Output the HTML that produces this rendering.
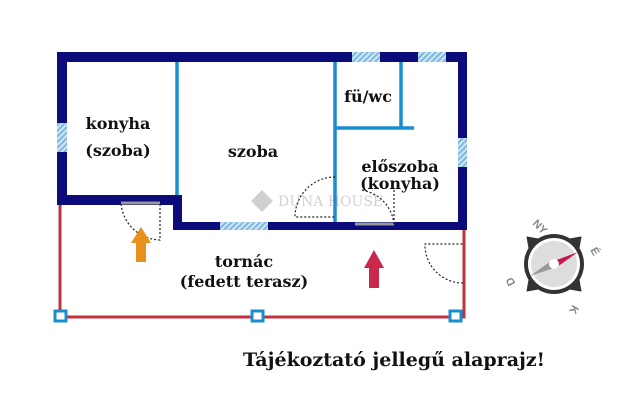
<!DOCTYPE html>
<html><head><meta charset="utf-8"><style>
body{margin:0;background:#fff;width:640px;height:410px;overflow:hidden}
text{font-family:"DejaVu Serif","Liberation Serif",serif;font-weight:bold;fill:#111}
</style></head><body>
<svg width="640" height="410" viewBox="0 0 640 410" xmlns="http://www.w3.org/2000/svg">
<defs>
<pattern id="h" width="4" height="4" patternUnits="userSpaceOnUse" patternTransform="rotate(45)">
<rect width="4" height="4" fill="#cfe6f5"/><rect width="2" height="4" fill="#7fb8e0"/></pattern>
</defs>
<g stroke="#c2323c" stroke-width="3" fill="none">
<path d="M60 205 V317 H464 V230"/></g>
<g fill="#fff" stroke="#1a8fd0" stroke-width="3">
<rect x="55" y="311" width="11" height="10"/><rect x="252" y="311" width="11" height="10"/><rect x="450" y="311" width="11" height="10"/></g>
<g fill="#0b0b7a">
<rect x="57" y="52" width="410" height="10"/>
<rect x="57" y="52" width="10" height="153"/>
<rect x="458" y="52" width="9" height="178"/>
<rect x="57" y="195" width="125" height="10"/>
<rect x="173" y="195" width="9" height="35"/>
<rect x="173" y="222" width="294" height="8"/>
</g>
<rect x="352" y="52" width="28" height="10" fill="url(#h)"/>
<rect x="418" y="52" width="28" height="10" fill="url(#h)"/>
<rect x="57" y="123" width="10" height="29" fill="url(#h)"/>
<rect x="458" y="138" width="9" height="29" fill="url(#h)"/>
<rect x="220" y="222" width="48" height="8" fill="url(#h)"/>
<g stroke="#1a8fd0" stroke-width="3.5" fill="none">
<path d="M177 62 V195"/><path d="M335 62 V222"/><path d="M401 62 V128"/><path d="M335 128 H414"/>
</g>
<g stroke="#999" stroke-width="3"><path d="M121 203 H160"/><path d="M355 224 H394"/></g>
<g stroke="#222" stroke-width="1.2" stroke-dasharray="2,2" fill="none">
<path d="M121 204 A40 40 0 0 0 160 240 V204"/>
<path d="M335 177 A40 40 0 0 0 295 217 H335"/>
<path d="M394 224 A38 38 0 0 0 360 190"/><path d="M394 224 V188"/>
<path d="M463 283 A38 38 0 0 1 425 244 H463"/>
</g>
<path d="M141 227 L151 243 H146 V262 H136 V243 H131 Z" fill="#e8901c"/>
<path d="M374 250 L384 268 H379 V288 H369 V268 H364 Z" fill="#c8284c"/>
<g opacity="0.3"><path d="M262 190 L273 201 L262 212 L251 201 Z" fill="#666"/>
<text x="278" y="206" style="font-size:14px;font-weight:normal;fill:#666">DUNA HOUSE</text></g>
<g style="font-size:16px">
<text x="118" y="129" text-anchor="middle">konyha</text>
<text x="118" y="156" text-anchor="middle">(szoba)</text>
<text x="253" y="157" text-anchor="middle">szoba</text>
<text x="368" y="102" text-anchor="middle">fü/wc</text>
<text x="400" y="172" text-anchor="middle">előszoba</text>
<text x="400" y="189" text-anchor="middle">(konyha)</text>
<text x="244" y="267" text-anchor="middle">tornác</text>
<text x="244" y="287" text-anchor="middle">(fedett terasz)</text>
</g>
<text x="394" y="366" text-anchor="middle" style="font-size:19px">Tájékoztató jellegű alaprajz!</text>
<g transform="translate(554,264)">
<g transform="rotate(-45)" fill="#333">
<path d="M-7 -29 L0 -39 L7 -29Z"/><path d="M29 -7 L39 0 L29 7Z"/><path d="M-7 29 L0 39 L7 29Z"/><path d="M-29 -7 L-39 0 L-29 7Z"/></g>
<circle r="30" fill="#333"/><circle r="26" fill="#fff"/><circle r="23" fill="#ddd"/>
<path d="M0 -3 L24 -12 L3 3Z" fill="#c8174a"/>
<path d="M3 3 L-24 12 L-3 -3Z" fill="#999"/>
<circle r="5" fill="#fff"/>
<g style="font-size:11px">
<text x="-22" y="-40" transform="rotate(45 -22 -40)" style="fill:#888;font-family:'Liberation Sans',sans-serif">NY</text>
<text x="36" y="-14" style="fill:#888;font-family:'Liberation Sans',sans-serif" transform="rotate(60 36 -14)">É</text>
<text x="-44" y="22" style="fill:#888;font-family:'Liberation Sans',sans-serif" transform="rotate(-120 -42 19)">D</text>
<text x="16" y="46" style="fill:#888;font-family:'Liberation Sans',sans-serif" transform="rotate(120 19 44)">K</text>
</g></g>
</svg>
</body></html>
